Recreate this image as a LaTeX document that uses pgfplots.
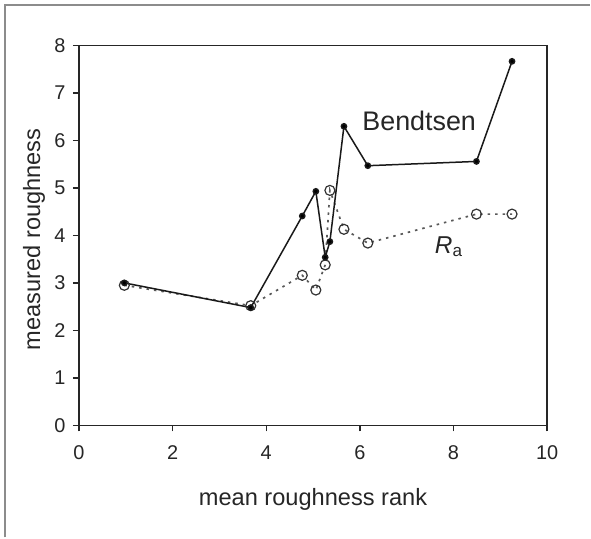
\documentclass[border=0pt]{standalone}
\usepackage{pgfplots}
\pgfplotsset{compat=1.18}
\usepackage{fontspec}
\setmainfont{Liberation Sans}
\begin{document}
\begin{tikzpicture}
\path (0,0) rectangle (591bp,538bp);
\draw[color=black!45, line width=1.2bp] (5bp,0) -- (5bp,533bp) -- (591bp,533bp);
\begin{axis}[
  at={(79bp,112.3bp)}, anchor=south west,
  scale only axis, width=468.7bp, height=380bp,
  xmin=0, xmax=10, ymin=0, ymax=8,
  xtick={0,2,4,6,8,10}, ytick={0,1,2,3,4,5,6,7,8},
  axis line style={line width=1.5bp, color=black!85},
  tick style={line width=1.4bp, color=black!85},
  tick align=outside, major tick length=6bp,
  xtick pos=bottom, ytick pos=left,
  /pgf/number format/assume math mode=true,
  tick label style={font=\fontsize{20}{22}\selectfont, text=black!85},
  yticklabel style={xshift=-4bp},
  xticklabel style={yshift=-11bp},
  label style={font=\fontsize{23.7}{26}\selectfont, text=black!85},
  xlabel={mean roughness rank},
  ylabel={measured roughness},
  xlabel style={at={(axis description cs:0.5,-0.195)}, anchor=center},
  ylabel style={at={(axis description cs:-0.096,0.49)}, anchor=center},
  clip=false,
]
\addplot[color=black!65, line width=1.7bp, dash pattern=on 2.5bp off 5bp,
  mark=o, mark size=5bp, mark options={solid, line width=1.2bp, color=black!80}]
coordinates {
(0.97,2.95) (3.67,2.52) (4.77,3.16) (5.06,2.85) (5.26,3.38) (5.36,4.95)
(5.66,4.13) (6.17,3.84) (8.49,4.45) (9.25,4.45)
};
\addplot[color=black!90, line width=1.5bp, mark=*, mark size=2.6bp,
  mark options={solid, fill=black}]
coordinates {
(0.97,3.00) (3.67,2.48) (4.77,4.41) (5.06,4.93) (5.26,3.54) (5.36,3.87)
(5.66,6.30) (6.17,5.47) (8.49,5.56) (9.25,7.67)
};
\node[anchor=base west, inner sep=0pt, font=\fontsize{27}{30}\selectfont, text=black!85]
  at (axis cs:6.05,6.22) {Bendtsen};
\node[anchor=base west, inner sep=0pt, font=\fontsize{24.5}{28}\selectfont, text=black!85]
  at (axis cs:7.6,3.63) {\textit{R}\textsubscript{a}};
\end{axis}
\end{tikzpicture}
\end{document}
